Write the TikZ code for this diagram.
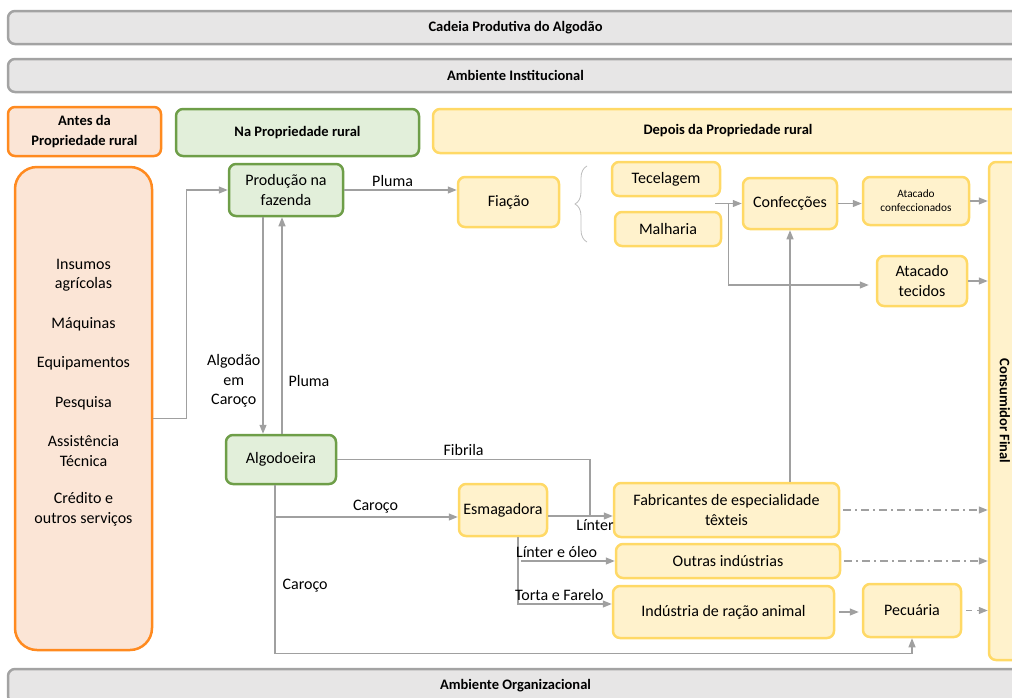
\documentclass[tikz,border=0pt]{standalone}
\usepackage{fontspec}
\setmainfont{Carlito}
\usepackage{tikz}
\usetikzlibrary{arrows.meta,decorations.pathreplacing}
\definecolor{barfill}{HTML}{E7E6E6}
\definecolor{barline}{HTML}{A3A3A3}
\definecolor{orline}{HTML}{FF8A1F}
\definecolor{orfill}{HTML}{FBE5D6}
\definecolor{grline}{HTML}{6E9E48}
\definecolor{grfill}{HTML}{E2EFDA}
\definecolor{yeline}{HTML}{FFD966}
\definecolor{yefill}{HTML}{FFF2CC}
\definecolor{arline}{HTML}{A0A0A0}
\newcommand{\fbody}[0]{\fontsize{16}{19.5}\selectfont}
\newcommand{\ftitle}[0]{\fontsize{14.5}{19.5}\selectfont\bfseries}
\newcommand{\fsmall}[0]{\fontsize{11.3}{14}\selectfont}

\begin{document}
\begin{tikzpicture}[x=1pt, y=-1pt, font=\fbody,
  box/.style={rounded corners=7pt, line width=2.5pt, align=center, inner sep=2pt},
  bar/.style={box, draw=barline, fill=barfill, minimum width=1015pt,
    minimum height=33pt, font=\ftitle},
  before/.style={box, draw=orline, fill=orfill},
  farm/.style={box, draw=grline, fill=grfill},
  after/.style={box, draw=yeline, fill=yefill},
  flow/.style={draw=arline, line width=1.2pt, -{Triangle[length=9pt,width=7pt]}},
  plain/.style={draw=arline, line width=1.2pt},
  lbl/.style={inner sep=3pt}]

  \useasboundingbox (0,0) rectangle (1012,697);
  \clip (0,0) rectangle (1012,697);

  %% frame bars
  \node[bar] (cadeia) at (515.5,27.5) {Cadeia Produtiva do Algodão};
  \node[bar] (institucional) at (515.5,75.5) {Ambiente Institucional};
  \node[bar, minimum height=34pt] (organizacional) at (515.5,686) {Ambiente Organizacional};

  %% stage headers
  \node[before, font=\ftitle, minimum width=153pt, minimum height=49pt]
  (antes) at (84.5,131.5) {Antes da\\Propriedade rural};
  \node[farm, font=\ftitle, minimum width=243pt, minimum height=47pt]
  (na) at (297.5,132.5) {Na Propriedade rural};
  \node[after, font=\ftitle, minimum width=590pt, minimum height=44pt]
  (depois) at (728,131) {Depois da Propriedade rural};

  %% before the farm
  \node[before, rounded corners=22pt, minimum width=137pt, minimum height=483pt]
  (insumos) at (83.5,408.5) {};
  \node[align=center] (insumostxt) at ([yshift=16pt]insumos.center)
  {Insumos\\agrícolas\\[20pt]Máquinas\\[20pt]Equipamentos\\[20pt]Pesquisa\\[20pt]%
    Assistência\\Técnica\\[18pt]Crédito e\\outros serviços};

  %% on the farm
  \node[farm, minimum width=114pt, minimum height=52pt] (producao) at (286,190)
  {Produção na\\fazenda};
  \node[farm, minimum width=110pt, minimum height=49pt] (algodoeira) at (281,459.5)
  {Algodoeira};

  %% after the farm
  \node[after, minimum width=101pt, minimum height=50pt] (fiacao) at (508.5,202) {Fiação};
  \node[after, minimum width=108pt, minimum height=34pt] (tecelagem) at (666,179) {Tecelagem};
  \node[after, minimum width=106pt, minimum height=34pt] (malharia) at (668,229) {Malharia};
  \node[after, minimum width=94pt, minimum height=51pt] (confeccoes) at (790,203.5) {Confecções};
  \node[after, font=\fsmall, minimum width=106pt, minimum height=48pt]
  (atacadoconf) at (916,201) {Atacado\\confeccionados};
  \node[after, minimum width=90pt, minimum height=50pt] (atacadotec) at (922,281)
  {Atacado\\tecidos};
  \node[after, font=\ftitle, minimum width=32pt, minimum height=498pt]
  (consumidor) at (1005,411) {\rotatebox{-90}{Consumidor Final}};
  \node[after, minimum width=88pt, minimum height=52pt] (esmagadora) at (503,510) {Esmagadora};
  \node[after, minimum width=225pt, minimum height=54pt] (fabricantes) at (726.5,510)
  {Fabricantes de especialidade\\têxteis};
  \node[after, minimum width=224pt, minimum height=34pt] (outras) at (728,561)
  {Outras indústrias};
  \node[after, minimum width=221pt, minimum height=52pt] (racao) at (723.5,612)
  {Indústria de ração animal};
  \node[after, minimum width=98pt, minimum height=53pt] (pecuaria) at (912,610.5) {Pecuária};

  %% insumos - producao
  \draw[flow] ([yshift=-10pt]insumos.east) -- ++(33,0) |- (producao.west);

  %% producao - fiacao
  \draw[flow] (producao.east) -- (producao.east -| fiacao.west)
  node[lbl, above, pos=0.43] {Pluma};

  %% producao - algodoeira
  \draw[flow] ([xshift=-23pt]producao.south) --
  ([xshift=-23pt]producao.south |- algodoeira.north)
  node[lbl, left, align=center, pos=0.756, inner sep=2pt] {Algodão\\em\\Caroço};
  \draw[flow] ([xshift=1pt]algodoeira.north) --
  ([xshift=1pt]algodoeira.north |- producao.south)
  node[lbl, right, pos=0.244, inner sep=6pt] {Pluma};

  %% fiacao - tecelagem / malharia
  \draw[draw=arline!70, line width=0.8pt,
  decorate, decoration={brace, amplitude=12pt}] (587,242) -- (587,166);

  %% tecelagem / malharia - confeccoes, atacado tecidos
  \draw[flow] ([xshift=-6pt]tecelagem.east |- confeccoes.west) -- (confeccoes.west);
  \draw[flow] ([xshift=7pt]tecelagem.east |- confeccoes.west) |-
  ([xshift=-7pt, yshift=-4pt]atacadotec.west);

  %% confeccoes - atacado - consumidor
  \draw[flow] (confeccoes.east) -- (confeccoes.east -| atacadoconf.west);
  \draw[flow] (atacadoconf.east) -- (atacadoconf.east -| consumidor.west);
  \draw[flow] (atacadotec.east) -- (atacadotec.east -| consumidor.west);

  %% algodoeira - fibrila - fabricantes
  \coordinate (lint) at (590,516);
  \draw[plain] (algodoeira.east) -| (lint)
  node[lbl, above, pos=0.25] {Fibrila};
  \draw[flow] ([yshift=-6pt]esmagadora.east) -- ([yshift=-6pt]fabricantes.west);
  \path (lint) node[lbl, below, xshift=5pt] {Línter};

  %% algodoeira - esmagadora, pecuaria
  \coordinate (caroco) at ([xshift=-6pt]algodoeira.south |- 0,517);
  \draw[flow] (caroco) -- (caroco -| esmagadora.west)
  node[lbl, above, pos=0.55] {Caroço};
  \draw[flow] ([xshift=-6pt]algodoeira.south) -- ++(0,168)
  node[lbl, right, pos=0.6, inner sep=7pt] {Caroço} -| (pecuaria.south);

  %% esmagadora - outras, racao
  \draw[flow] ([xshift=15pt]esmagadora.south) |- ([yshift=8pt]racao.west)
  node[lbl, above, pos=0.72] {Torta e Farelo};
  \draw[flow] ([xshift=18pt]esmagadora.south |- outras.west) -- (outras.west)
  node[lbl, above, pos=0.38] {Línter e óleo};

  %% fabricantes - confeccoes
  \draw[flow] (fabricantes.north -| confeccoes.south) -- (confeccoes.south);

  %% industries - consumidor
  \draw[flow, dash pattern=on 8pt off 4pt on 2pt off 4pt]
  ([xshift=3pt]fabricantes.east) -- (fabricantes.east -| consumidor.west);
  \draw[flow, dash pattern=on 8pt off 4pt on 2pt off 4pt]
  ([xshift=3pt]outras.east) -- (outras.east -| consumidor.west);
  \draw[flow, shorten <=4pt, shorten >=3pt] (racao.east) -- (racao.east -| pecuaria.west);
  \draw[flow, dash pattern=on 6pt off 5pt]
  ([xshift=4pt]pecuaria.east) -- (pecuaria.east -| consumidor.west);

\end{tikzpicture}
\end{document}
